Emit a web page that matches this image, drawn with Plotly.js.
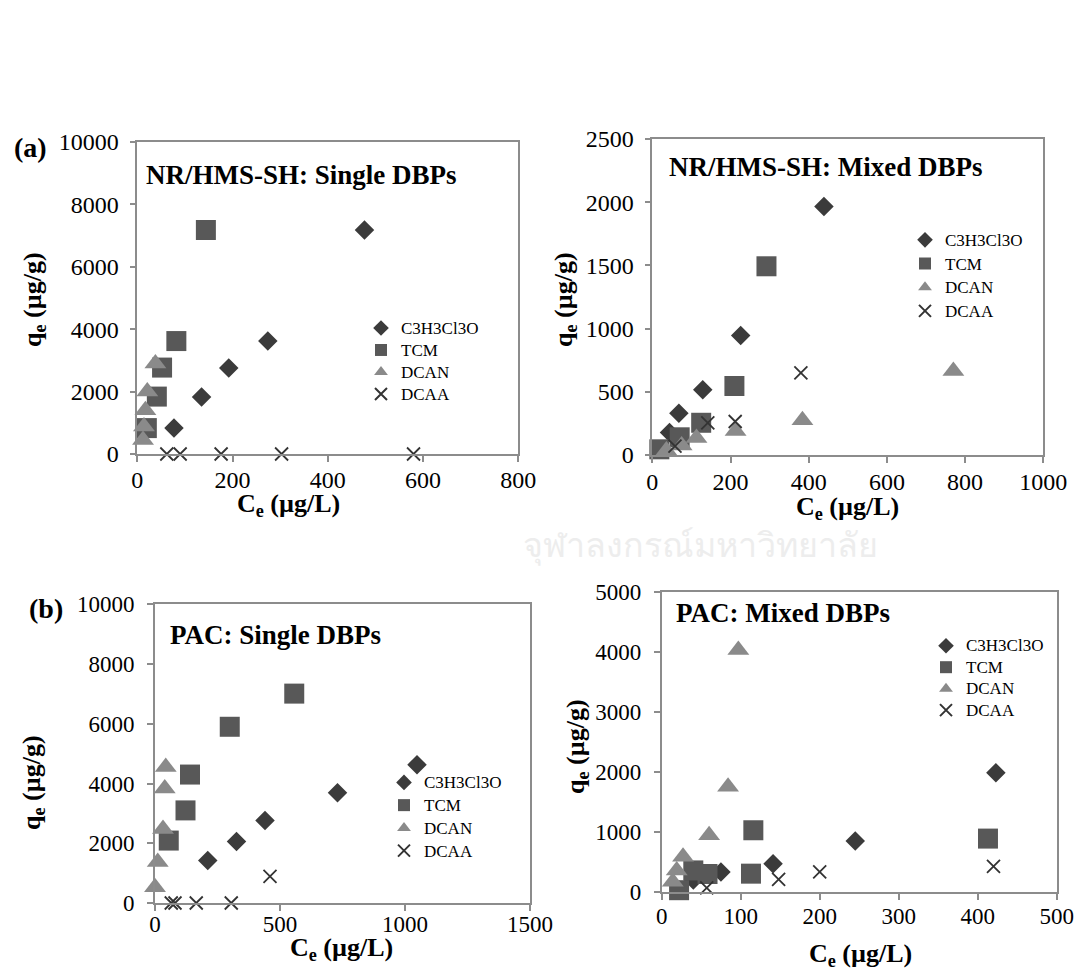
<!DOCTYPE html>
<html>
<head>
<meta charset="utf-8">
<script src="https://cdn.plot.ly/plotly-3.0.1.min.js"></script>
<style>html,body{margin:0;padding:0;background:#fff;}#chart{width:1078px;height:971px;}</style>
</head>
<body>
<div id="chart"></div>
<script>
// ---------- data ----------
const seriesNames = ["C3H3Cl3O", "TCM", "DCAN", "DCAA"];

// (a) NR/HMS-SH : Single DBPs
const a1_C3_x = [77, 135, 192, 274, 477];
const a1_C3_y = [830, 1830, 2760, 3620, 7180];
const a1_TCM_x = [20, 41, 52, 82, 144];
const a1_TCM_y = [830, 1840, 2770, 3620, 7180];
const a1_DCAN_x = [12, 14, 17, 21, 38];
const a1_DCAN_y = [450, 880, 1400, 2000, 2900];
const a1_DCAA_x = [62, 90, 176, 303, 580];
const a1_DCAA_y = [0, 0, 0, 0, 0];

// (a) NR/HMS-SH : Mixed DBPs
const a2_C3_x = [44, 68, 129, 226, 439];
const a2_C3_y = [178, 330, 517, 946, 1966];
const a2_TCM_x = [18, 70, 125, 210, 292];
const a2_TCM_y = [45, 140, 255, 546, 1493];
const a2_DCAN_x = [36, 75, 113, 213, 384, 770];
const a2_DCAN_y = [35, 75, 135, 190, 275, 665];
const a2_DCAA_x = [58, 142, 212, 380];
const a2_DCAA_y = [70, 255, 265, 650];

// (b) PAC : Single DBPs
const b1_C3_x = [211, 326, 440, 730, 1048];
const b1_C3_y = [1420, 2060, 2760, 3690, 4630];
const b1_TCM_x = [55, 122, 140, 299, 557];
const b1_TCM_y = [2090, 3100, 4300, 5900, 7010];
const b1_DCAN_x = [0, 11, 32, 39, 43];
const b1_DCAN_y = [530, 1370, 2480, 3830, 4550];
const b1_DCAA_x = [65, 80, 165, 305, 460];
const b1_DCAA_y = [0, 0, 0, 0, 890];

// (b) PAC : Mixed DBPs
const b2_C3_x = [40, 75, 141, 245, 423];
const b2_C3_y = [200, 335, 473, 852, 1988];
const b2_TCM_x = [22, 40, 58, 113, 116, 413];
const b2_TCM_y = [30, 360, 300, 306, 1030, 891];
const b2_DCAN_x = [14, 19, 27, 60, 84, 97];
const b2_DCAN_y = [170, 360, 590, 947, 1754, 4037];
const b2_DCAA_x = [57, 148, 200, 420];
const b2_DCAA_y = [70, 212, 334, 429];

const panelTitles = ["NR/HMS-SH: Single DBPs", "NR/HMS-SH: Mixed DBPs", "PAC: Single DBPs", "PAC: Mixed DBPs"];
const panelLetters = ["(a)", "(b)"];
const yTitle = "q<sub>e</sub> (µg/g)";
const xTitle = "C<sub>e</sub> (µg/L)";
const watermark = "จุฬาลงกรณ์มหาวิทยาลัย";

// ---------- layout helpers ----------
const W = 1078, H = 971;
const fx = x => x / W;
const fy = y => 1 - y / H;
const SERIF = "Liberation Serif, Times New Roman, serif";

const styles = [
  {symbol: "diamond", size: 15, color: "#3b3b3b", line: {width: 0}},
  {symbol: "square", size: 20, color: "#585858", line: {width: 0}},
  {symbol: "triangle-up", size: 19, color: "#8a8a8a", line: {width: 0}},
  {symbol: "x-thin-open", size: 13, color: "#333333", line: {width: 1.8, color: "#333333"}}
];

const panels = [
  {xs: [a1_C3_x, a1_TCM_x, a1_DCAN_x, a1_DCAA_x], ys: [a1_C3_y, a1_TCM_y, a1_DCAN_y, a1_DCAA_y]},
  {xs: [a2_C3_x, a2_TCM_x, a2_DCAN_x, a2_DCAA_x], ys: [a2_C3_y, a2_TCM_y, a2_DCAN_y, a2_DCAA_y]},
  {xs: [b1_C3_x, b1_TCM_x, b1_DCAN_x, b1_DCAA_x], ys: [b1_C3_y, b1_TCM_y, b1_DCAN_y, b1_DCAA_y]},
  {xs: [b2_C3_x, b2_TCM_x, b2_DCAN_x, b2_DCAA_x], ys: [b2_C3_y, b2_TCM_y, b2_DCAN_y, b2_DCAA_y]}
];

const legendIds = ["legend", "legend2", "legend3", "legend4"];
const legendTextSize = 17;
const data = [];
panels.forEach((p, i) => {
  const sfx = i === 0 ? "" : String(i + 1);
  for (let k = 0; k < 4; k++) {
    const st = styles[k];
    data.push({
      type: "scatter", mode: "markers",
      x: p.xs[k], y: p.ys[k],
      xaxis: "x" + sfx, yaxis: "y" + sfx,
      name: '<span style="font-size:' + legendTextSize + 'px">' + seriesNames[k] + '</span>',
      legend: legendIds[i],
      cliponaxis: false,
      marker: {symbol: st.symbol, size: st.size, color: st.color, line: st.line},
      hovertemplate: seriesNames[k] + ": (%{x}, %{y})<extra></extra>"
    });
  }
});

// plot areas in pixels [left, right, top, bottom]
const boxes = [
  [137.3, 518.3, 142, 454],
  [652.3, 1043.3, 139, 455],
  [155, 530, 604.3, 903],
  [661.7, 1056.7, 592.3, 892]
];
const ranges = [
  {x: [0, 800], dx: 200, y: [0, 10000], dy: 2000},
  {x: [0, 1000], dx: 200, y: [0, 2500], dy: 500},
  {x: [0, 1500], dx: 500, y: [0, 10000], dy: 2000},
  {x: [0, 500], dx: 100, y: [0, 5000], dy: 1000}
];
const tickSizes = [24, 24, 23, 23];
const xStandoff = [-3, -2, -6, -3];
const yStandoff = [6, 6, 8, 8];

function axis(domain, range, dtick, anchor, standoff, fsize) {
  return {
    domain: domain, range: range, dtick: dtick, tick0: 0, anchor: anchor,
    showline: true, linecolor: "#8c8c8c", linewidth: 1.6, mirror: true,
    ticks: "outside", ticklen: 6, tickwidth: 1.5, tickcolor: "#8c8c8c",
    showgrid: false, zeroline: false, tickformat: "d",
    ticklabelstandoff: standoff,
    tickfont: {family: SERIF, size: fsize, color: "#000"},
    fixedrange: true
  };
}

const layout = {
  width: W, height: H,
  margin: {l: 0, r: 0, t: 0, b: 0},
  paper_bgcolor: "#fff", plot_bgcolor: "#fff",
  font: {family: SERIF, color: "#000", size: 18},
  annotations: [],
  hovermode: "closest"
};

boxes.forEach((b, i) => {
  const sfx = i === 0 ? "" : String(i + 1);
  layout["xaxis" + sfx] = axis([fx(b[0]), fx(b[1])], ranges[i].x, ranges[i].dx, "y" + sfx, xStandoff[i], tickSizes[i]);
  layout["yaxis" + sfx] = axis([fy(b[3]), fy(b[2])], ranges[i].y, ranges[i].dy, "x" + sfx, yStandoff[i], tickSizes[i]);
});

// legends: [left px, top px, font size controlling row spacing]
const legendPos = [[361, 312, 14.6], [905, 223, 15.9], [384, 766, 15.2], [926, 630, 14.2]];
legendPos.forEach((lp, i) => {
  layout[legendIds[i]] = {
    x: fx(lp[0]), y: fy(lp[1]), xanchor: "left", yanchor: "top",
    bgcolor: "rgba(0,0,0,0)", borderwidth: 0,
    font: {family: SERIF, size: lp[2], color: "#000"},
    itemsizing: "constant", itemwidth: 30, tracegroupgap: 0
  };
});

// panel titles
const titlePos = [[144, 175], [667, 167], [168, 635], [674, 613]];
titlePos.forEach((tp, i) => {
  layout.annotations.push({
    xref: "paper", yref: "paper", x: fx(tp[0]), y: fy(tp[1]),
    xanchor: "left", yanchor: "middle", showarrow: false,
    text: "<b>" + panelTitles[i] + "</b>",
    font: {family: SERIF, size: 27, color: "#000"}
  });
});

// axis titles
const yTitlePos = [[34, 300], [565, 300], [33, 783], [577, 747]];
const xTitlePos = [[288, 505], [848, 508], [341, 949], [860, 955]];
for (let i = 0; i < 4; i++) {
  layout.annotations.push({
    xref: "paper", yref: "paper", x: fx(yTitlePos[i][0]), y: fy(yTitlePos[i][1]),
    xanchor: "center", yanchor: "middle", showarrow: false, textangle: -90,
    text: "<b>" + yTitle + "</b>", font: {family: SERIF, size: 26, color: "#000"}
  });
  layout.annotations.push({
    xref: "paper", yref: "paper", x: fx(xTitlePos[i][0]), y: fy(xTitlePos[i][1]),
    xanchor: "center", yanchor: "middle", showarrow: false,
    text: "<b>" + xTitle + "</b>", font: {family: SERIF, size: 26, color: "#000"}
  });
}

// panel letters
const letterPos = [[30, 148], [46, 608]];
letterPos.forEach((lp, i) => {
  layout.annotations.push({
    xref: "paper", yref: "paper", x: fx(lp[0]), y: fy(lp[1]),
    xanchor: "center", yanchor: "middle", showarrow: false,
    text: "<b>" + panelLetters[i] + "</b>", font: {family: SERIF, size: 28, color: "#000"}
  });
});

// faint watermark text
layout.annotations.push({
  xref: "paper", yref: "paper", x: fx(700), y: fy(544),
  xanchor: "center", yanchor: "middle", showarrow: false,
  text: watermark, font: {family: "Noto Sans, DejaVu Sans, sans-serif", size: 34, color: "#ededed"}
});

Plotly.newPlot("chart", data, layout, {displayModeBar: false});
</script>
</body>
</html>
